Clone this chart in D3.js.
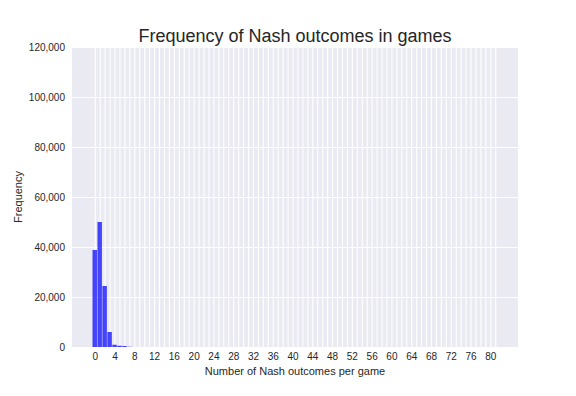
<!DOCTYPE html>
<html>
<head>
<meta charset="utf-8">
<script src="https://cdn.jsdelivr.net/npm/d3@7"></script>
<style>
  body { margin: 0; background: #fff; }
  text { font-family: "Liberation Sans", Arial, sans-serif; fill: #262626; }
</style>
</head>
<body>
<div class="histChart"></div>
<script>
const WIDTH = 576;
const HEIGHT = 396;
const LEFT = 72, RIGHT = 518, TOP = 47, BOTTOM = 347;

// number of Nash outcomes per game -> count of games
var outcomes = [0, 1, 2, 3, 4, 5, 6, 7];
var counts = [38800, 50000, 24400, 6000, 900, 500, 400, 100];
var xTicks = [0, 4, 8, 12, 16, 20, 24, 28, 32, 36, 40, 44, 48, 52, 56, 60, 64, 68, 72, 76, 80];
var yTicks = [0, 20000, 40000, 60000, 80000, 100000, 120000];
var binEdges = d3.range(0, 82);

var xScale = d3.scaleLinear().domain([-4.6, 85.6]).range([LEFT, RIGHT]);
var yScale = d3.scaleLinear().domain([0, 120000]).range([BOTTOM, TOP]);

var svg = d3.select('.histChart').append('svg')
    .attr('width', WIDTH)
    .attr('height', HEIGHT);

function drawBackground() {
    svg.append('rect')
        .attr('x', LEFT).attr('y', TOP)
        .attr('width', RIGHT - LEFT).attr('height', BOTTOM - TOP)
        .attr('fill', '#EAEAF2');

    // dense vertical grid (one line per integer)
    var vGrid = d3.axisBottom(xScale).tickValues(binEdges).tickSize(-(BOTTOM - TOP)).tickFormat('');
    svg.append('g').attr('transform', 'translate(0,' + BOTTOM + ')').call(vGrid)
        .call(function (g) { g.select('.domain').remove(); })
        .selectAll('line').attr('stroke', '#fff').attr('stroke-width', 1.1);

    var hGrid = d3.axisLeft(yScale).tickValues(yTicks).tickSize(-(RIGHT - LEFT)).tickFormat('');
    svg.append('g').attr('transform', 'translate(' + LEFT + ',0)').call(hGrid)
        .call(function (g) { g.select('.domain').remove(); })
        .selectAll('line').attr('stroke', '#fff').attr('stroke-width', 1.1);
}

function drawAxis() {
    var xAxis = d3.axisBottom(xScale).tickValues(xTicks).tickSize(0).tickPadding(6);
    var xg = svg.append('g').attr('transform', 'translate(0,' + BOTTOM + ')').call(xAxis);
    xg.select('.domain').remove();
    xg.selectAll('text').attr('font-size', 10).attr('font-family', '"Liberation Sans", Arial, sans-serif').attr('fill', '#262626');

    var yAxis = d3.axisLeft(yScale).tickValues(yTicks).tickSize(0).tickPadding(7).tickFormat(d3.format(','));
    var yg = svg.append('g').attr('transform', 'translate(' + LEFT + ',0)').call(yAxis);
    yg.select('.domain').remove();
    yg.selectAll('text').attr('font-size', 10).attr('font-family', '"Liberation Sans", Arial, sans-serif').attr('fill', '#262626');
}

function drawBars() {
    var w = xScale(0.9) - xScale(0);
    svg.append('g').selectAll('rect')
        .data(outcomes)
        .enter().append('rect')
        .attr('x', function (d) { return xScale(d) - w / 2; })
        .attr('y', function (d, i) { return yScale(counts[i]); })
        .attr('width', w)
        .attr('height', function (d, i) { return BOTTOM - yScale(counts[i]); })
        .attr('fill', 'blue')
        .attr('fill-opacity', 0.72);
}

function drawLabels() {
    svg.append('text')
        .attr('x', (LEFT + RIGHT) / 2).attr('y', 42)
        .attr('text-anchor', 'middle').attr('font-size', 18)
        .text('Frequency of Nash outcomes in games');

    svg.append('text')
        .attr('x', (LEFT + RIGHT) / 2).attr('y', 375)
        .attr('text-anchor', 'middle').attr('font-size', 11)
        .text('Number of Nash outcomes per game');

    svg.append('text')
        .attr('transform', 'translate(22,' + (TOP + BOTTOM) / 2 + ') rotate(-90)')
        .attr('text-anchor', 'middle').attr('font-size', 11)
        .text('Frequency');
}

drawBackground();
drawBars();
drawAxis();
drawLabels();
</script>
</body>
</html>
